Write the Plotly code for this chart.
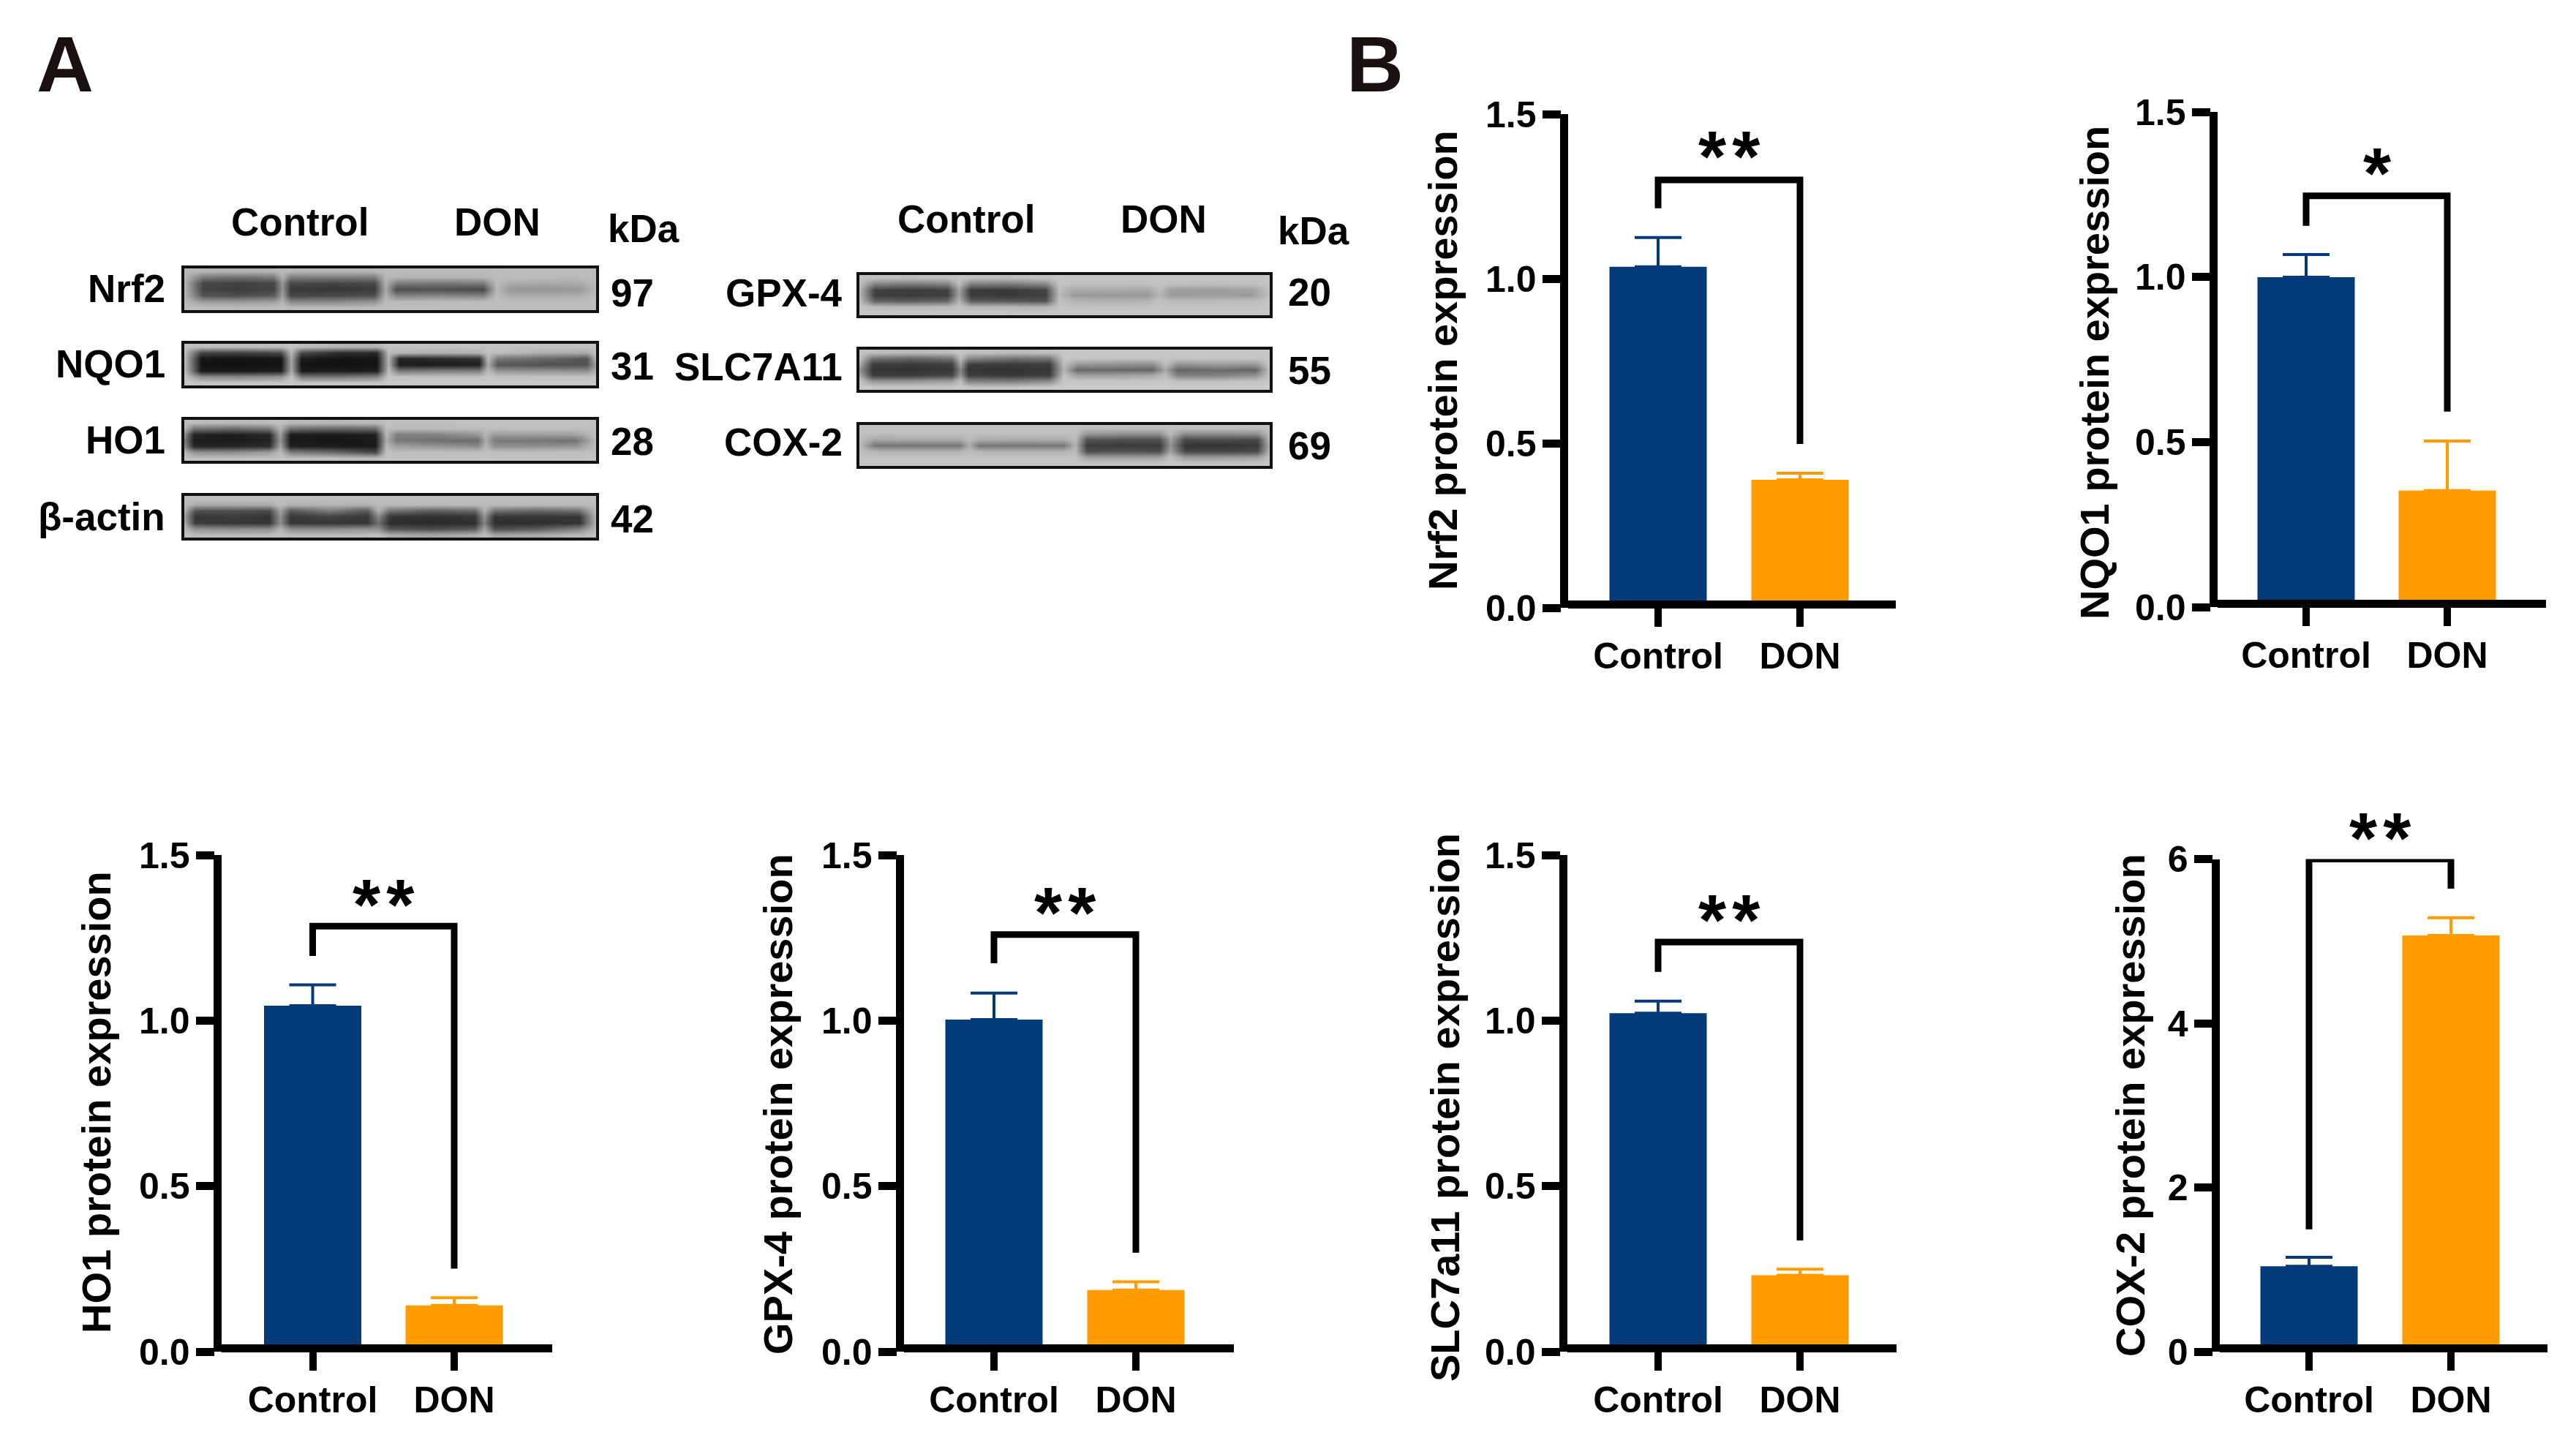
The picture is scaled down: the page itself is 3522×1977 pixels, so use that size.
import plotly.graph_objects as go

W, H = 3522, 1977
FONT = "Liberation Sans"
NAVY = "#033B7A"
ORANGE = "#FF9C00"

categories = ["Control", "DON"]
panel_titles = ["Nrf2 protein expression", "NQO1 protein expression", "HO1 protein expression",
                "GPX-4 protein expression", "SLC7a11 protein expression", "COX-2 protein expression"]
control_means = [1.036, 0.999, 1.045, 1.003, 1.022, 1.041]
don_means = [0.389, 0.353, 0.140, 0.186, 0.231, 5.07]
control_errs = [0.089, 0.069, 0.063, 0.080, 0.037, 0.109]
don_errs = [0.020, 0.150, 0.023, 0.025, 0.018, 0.216]
bracket_tops = [1.30, 1.246, 1.285, 1.26, 1.237, 6.0]
bracket_left_ends = [1.214, 1.155, 1.195, 1.173, 1.147, 1.49]
bracket_right_ends = [0.498, 0.592, 0.251, 0.299, 0.336, 5.64]
significance = ["*\u200a*", "*", "*\u200a*", "*\u200a*", "*\u200a*", "*\u200a*"]
y_tops = [1.5, 1.5, 1.5, 1.5, 1.5, 6]
y_ticks_small = [0, 0.5, 1.0, 1.5]
y_tick_text_small = ["0.0", "0.5", "1.0", "1.5"]
y_ticks_cox = [0, 2, 4, 6]
y_tick_text_cox = ["0", "2", "4", "6"]

# Blot densities: one row per horizontal slice of the membrane,
# columns run background, band 1, gap, band 2, gap, band 3, gap, band 4, background.
blot_nrf2 = [
    [186,180,178,180,186,182,182,182,187,187,187,187,187,188,188,188,188],
    [184,120,112,120,175,125,125,125,184,180,178,180,188,188,186,186,188],
    [182,70,65,70,150,72,68,72,175,125,120,125,187,172,168,172,188],
    [182,68,60,68,150,58,54,58,170,78,82,72,185,150,148,152,188],
    [184,85,78,90,160,70,74,80,178,130,135,130,188,172,172,176,188],
    [185,155,150,158,180,135,135,145,186,185,186,186,190,188,188,188,190],
    [190,188,188,188,190,186,186,188,190,190,190,190,190,190,190,190,190],
]
blot_nqo1 = [
    [195,190,188,190,195,188,180,180,195,195,195,195,195,195,195,195,195],
    [192,70,65,75,185,75,45,42,190,180,175,178,193,190,175,170,195],
    [188,22,20,22,170,28,20,22,180,38,42,50,185,120,105,85,188],
    [188,18,16,20,165,20,16,20,178,28,28,32,172,88,82,82,160],
    [190,26,26,30,170,28,30,30,188,120,128,130,188,150,148,145,180],
    [198,140,135,145,195,120,120,130,198,195,195,195,198,195,195,195,198],
    [200,198,198,198,200,198,198,198,200,200,200,200,200,200,200,200,200],
]
blot_ho1 = [
    [192,188,185,188,192,186,182,186,192,192,192,192,192,192,192,192,192],
    [185,115,105,120,180,110,100,105,190,185,185,188,190,190,190,190,190],
    [145,35,30,40,160,28,25,33,182,128,130,150,180,155,158,160,190],
    [125,28,26,34,150,25,22,25,172,122,112,108,172,122,118,112,188],
    [140,38,38,46,165,32,28,26,186,160,150,140,182,145,145,150,190],
    [185,145,140,155,188,125,105,70,192,190,190,190,192,190,190,190,192],
    [195,192,192,192,195,192,190,185,195,195,195,195,195,195,195,195,195],
]
blot_actin = [
    [190,190,190,190,190,190,190,190,190,190,190,190,190,190,190,190,190],
    [188,170,170,170,188,176,180,176,188,186,184,186,188,186,184,186,188],
    [180,80,80,75,165,88,125,88,178,115,95,105,175,115,100,115,188],
    [160,52,60,52,145,55,64,55,135,52,46,52,145,52,52,52,185],
    [170,60,55,52,145,55,55,55,110,46,42,46,130,46,46,52,180],
    [186,145,140,142,180,140,140,145,145,85,78,90,165,78,90,130,188],
    [192,188,188,188,192,188,188,188,190,170,165,172,190,165,170,185,192],
]
blot_gpx4 = [
    [195,190,188,190,195,190,188,192,195,195,195,195,195,195,195,195,195],
    [190,130,122,130,188,128,122,135,195,192,192,192,195,192,190,192,195],
    [185,65,62,66,165,60,58,70,190,170,172,168,190,158,155,162,195],
    [185,60,58,62,160,58,55,64,188,155,150,150,182,155,158,155,192],
    [190,95,90,100,180,90,85,80,195,180,175,180,195,185,185,188,195],
    [195,185,182,185,195,182,180,178,195,195,195,195,195,195,195,195,195],
    [198,198,198,198,198,198,198,198,198,198,198,198,198,198,198,198,198],
]
blot_slc7a11 = [
    [198,190,185,190,198,192,188,190,198,198,198,198,198,198,198,198,198],
    [192,115,100,115,188,135,112,118,198,195,195,195,198,195,195,195,198],
    [175,60,58,62,160,62,58,62,190,150,145,140,190,145,155,150,198],
    [145,52,50,54,130,52,50,56,180,105,105,100,165,100,105,98,195],
    [170,62,62,70,150,62,58,62,195,160,160,168,190,130,130,145,198],
    [198,150,150,160,192,130,125,140,200,198,198,198,200,192,192,195,200],
    [202,200,200,200,202,198,198,200,202,202,202,202,202,202,202,202,202],
]
blot_cox2 = [
    [192,192,192,192,192,192,192,192,192,190,190,190,192,190,190,190,192],
    [192,190,190,190,192,190,190,190,192,150,145,145,185,140,140,145,192],
    [190,165,168,168,187,170,168,170,190,82,78,78,160,72,76,72,185],
    [188,118,118,118,172,118,118,118,178,60,58,58,145,52,52,56,178],
    [192,180,180,180,190,180,180,180,188,78,82,78,165,72,70,75,188],
    [195,195,195,195,195,195,195,195,195,160,160,160,192,155,155,160,195],
    [198,198,198,198,198,198,198,198,198,196,196,196,198,196,196,196,198],
]
blots = [blot_nrf2, blot_nqo1, blot_ho1, blot_actin, blot_gpx4, blot_slc7a11, blot_cox2]
blot_names = ["Nrf2", "NQO1", "HO1", "β-actin", "GPX-4", "SLC7A11", "COX-2"]
blot_kda = ["97", "31", "28", "42", "20", "55", "69"]
# Where each density column sits along the membrane, in arbitrary lane units.
blot_cols = [
    [30, 95, 220, 350, 380, 410, 560, 710, 750, 790, 945, 1100, 1148, 1195, 1320, 1445, 1505],
    [30, 90, 230, 375, 412, 450, 585, 720, 760, 800, 940, 1085, 1118, 1150, 1310, 1470, 1505],
    [30, 65, 200, 335, 372, 410, 565, 715, 752, 790, 935, 1080, 1110, 1140, 1285, 1430, 1505],
    [30, 70, 200, 335, 372, 410, 550, 685, 725, 765, 915, 1070, 1105, 1140, 1290, 1445, 1505],
    [432, 465, 542, 620, 645, 670, 750, 830, 860, 890, 970, 1050, 1075, 1100, 1190, 1275, 1312],
    [432, 460, 545, 630, 648, 665, 757, 840, 870, 900, 980, 1060, 1088, 1115, 1200, 1280, 1312],
    [432, 465, 555, 645, 668, 690, 780, 870, 895, 920, 997, 1075, 1098, 1130, 1210, 1285, 1312],
]

# ---- layout geometry in page pixels ----
panel_px = [
    (2139, 2592, 831, 156, 2267, 2461),
    (3027, 3481, 830, 153, 3153, 3346),
    (298, 754.5, 1848, 1169, 427.5, 621),
    (1231, 1687, 1848, 1169, 1359, 1553),
    (2138, 2593, 1848, 1169, 2267, 2461),
    (3030, 3483, 1848, 1174.5, 3157, 3351),
]
title_px = [(1992, 493), (2883, 510), (150, 1507), (1082, 1510), (1994, 1514), (2931, 1511)]
star_px = [(2364, 189), (3250, 212), (524, 1212), (1456, 1223), (2364, 1233), (3254, 1121)]
blot_px = [
    (248, 819, 363, 428), (248, 819, 466, 531), (248, 819, 570, 634), (248, 819, 674, 739),
    (1171, 1740, 372, 435), (1171, 1740, 474, 537), (1171, 1740, 577, 641),
]
blot_name_px = [(228, 395), (228, 497), (228, 601), (228, 706),
                (1154, 401), (1154, 502), (1154, 605)]
blot_kda_px = [(833, 400), (833, 501), (833, 603), (833, 709), (1759, 399), (1759, 506), (1759, 609)]
header_px = [("Control", 410, 303), ("DON", 680, 304), ("kDa", 880, 313),
             ("Control", 1321, 299), ("DON", 1591, 299), ("kDa", 1796, 315)]
LW = 10.5
TITLE_SIZE = 56
TICK_SIZE = 50
BLOT_TEXT = 53

fx = lambda p: p / W
fy = lambda p: 1 - p / H

fig = go.Figure()
layout = {}
annotations = []


def label(text, x, y, size, anchor="center", angle=0, bold=True, color="black"):
    annotations.append(dict(
        text=text, x=fx(x), y=fy(y), xref="paper", yref="paper", showarrow=False,
        xanchor=anchor, yanchor="middle", textangle=angle,
        font=dict(family=FONT, size=size, color=color, weight=700 if bold else 400),
    ))


n = 0
for i, (ax_x, right, y0, ytop, xc, xd) in enumerate(panel_px):
    n += 1
    xa, ya = f"x{n}", f"y{n}"
    dom_l = ax_x + LW / 2
    unit = xd - xc
    for cat_i, (mean, err, col) in enumerate([
        (control_means[i], control_errs[i], NAVY),
        (don_means[i], don_errs[i], ORANGE),
    ]):
        fig.add_trace(go.Bar(
            x=[categories[cat_i]], y=[mean], width=[133 / unit],
            marker=dict(color=col, line=dict(width=0)),
            error_y=dict(type="data", symmetric=False, array=[err], arrayminus=[0],
                         color=col, thickness=4, width=32),
            xaxis=xa, yaxis=ya, showlegend=False, name=categories[cat_i],
        ))
    fig.add_trace(go.Scatter(
        x=[categories[0], categories[0], categories[1], categories[1]],
        y=[bracket_left_ends[i], bracket_tops[i], bracket_tops[i], bracket_right_ends[i]],
        mode="lines", line=dict(color="black", width=9), cliponaxis=False,
        xaxis=xa, yaxis=ya, showlegend=False, hoverinfo="skip",
    ))
    ticks = y_ticks_cox if y_tops[i] == 6 else y_ticks_small
    tick_text = y_tick_text_cox if y_tops[i] == 6 else y_tick_text_small
    layout[f"xaxis{n}"] = dict(
        domain=[fx(dom_l), fx(right)], range=[-(xc - dom_l) / unit, 1 + (right - xd) / unit],
        type="category", categoryorder="array", categoryarray=categories,
        anchor="free", position=fy(y0 - LW / 2), automargin=False,
        showline=True, linecolor="black", linewidth=LW, ticks="outside", ticklen=25, tickwidth=9.5,
        tickcolor="black", showgrid=False, zeroline=False, ticklabelstandoff=-3,
        tickfont=dict(family=FONT, size=TICK_SIZE, color="black", weight=700),
    )
    layout[f"yaxis{n}"] = dict(
        domain=[fy(y0), fy(ytop)], range=[0, y_tops[i]], anchor=xa, automargin=False,
        tickmode="array", tickvals=ticks, ticktext=tick_text,
        showline=True, linecolor="black", linewidth=LW, ticks="outside", ticklen=25, tickwidth=LW,
        tickcolor="black", showgrid=False, zeroline=False, ticklabelstandoff=-2,
        tickfont=dict(family=FONT, size=TICK_SIZE, color="black", weight=700),
    )
    tx, ty = title_px[i]
    label(panel_titles[i], tx - 19, ty, TITLE_SIZE, angle=-90)
    sx, sy = star_px[i]
    label(significance[i], sx, sy + 25, 98)

for i, blot in enumerate(blots):
    n += 1
    xa, ya = f"x{n}", f"y{n}"
    l, r, t, b = blot_px[i]
    cols = blot_cols[i]
    fig.add_trace(go.Heatmap(
        z=blot, x=cols, zmin=0, zmax=255, zsmooth="best", showscale=False,
        colorscale=[[0, "#000000"], [1, "#ffffff"]], xaxis=xa, yaxis=ya, hoverinfo="skip",
    ))
    bw = 4
    off = dict(showticklabels=False, ticks="", showgrid=False, zeroline=False, mirror=True,
               showline=True, linecolor="#111111", linewidth=bw, automargin=False)
    layout[f"xaxis{n}"] = dict(domain=[fx(l + bw), fx(r - bw)], range=[cols[0], cols[-1]], anchor=ya, **off)
    layout[f"yaxis{n}"] = dict(domain=[fy(b - bw), fy(t + bw)], range=[6.5, -0.5], anchor=xa, **off)
    nx, ny = blot_name_px[i]
    label(blot_names[i], nx, ny, BLOT_TEXT, anchor="right")
    kx, ky = blot_kda_px[i]
    label(blot_kda[i], kx, ky, BLOT_TEXT, anchor="left")

for text, x, y in header_px:
    label(text, x, y, BLOT_TEXT)

label("A", 89, 88, 108, color="#1A1010")
label("B", 1880, 88, 108, color="#1A1010")

fig.update_layout(
    width=W, height=H, margin=dict(l=0, r=0, t=0, b=0), autosize=False,
    paper_bgcolor="white", plot_bgcolor="white", showlegend=False, barmode="overlay",
    annotations=annotations, **layout,
)
fig.write_html("out.html", post_script="document.body.style.margin='0';",
               config=dict(displayModeBar=False))
